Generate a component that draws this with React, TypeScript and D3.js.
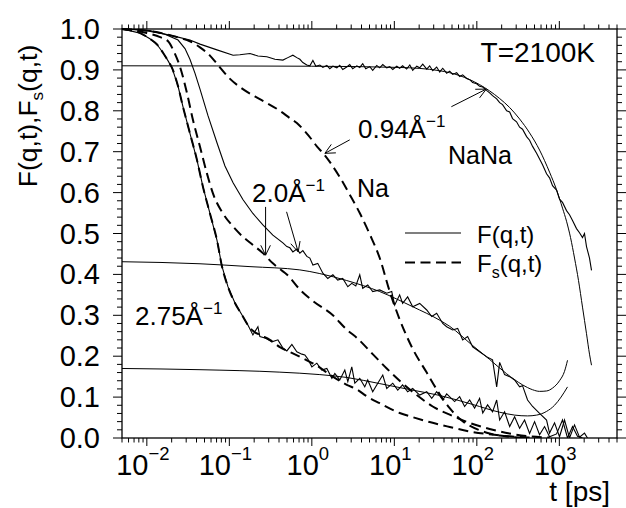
import React from 'react';
import * as d3 from 'd3';

type P = [number, number];

// t [ps], value
const nana094F: P[] = [[0.005,1.0],[0.0083,0.998],[0.0145,0.99],[0.0219,0.982],[0.0333,0.973],[0.0441,0.963],[0.0708,0.949],[0.111,0.936],[0.134,0.937],[0.178,0.94],[0.222,0.934],[0.285,0.932],[0.357,0.926],[0.446,0.924],[0.512,0.93],[0.589,0.936],[0.658,0.93],[0.716,0.926],[0.778,0.918],[0.87,0.912],[0.946,0.91],[1.03,0.923],[1.12,0.909],[1.25,0.912],[1.36,0.906],[1.52,0.911],[1.65,0.903],[1.8,0.909],[2.01,0.905],[2.18,0.911],[2.37,0.901],[2.65,0.907],[2.88,0.913],[3.13,0.903],[3.51,0.91],[3.81,0.906],[4.14,0.915],[4.51,0.903],[5.04,0.908],[5.47,0.899],[6.12,0.911],[6.65,0.905],[7.24,0.913],[8.09,0.905],[8.8,0.908],[9.57,0.901],[10.7,0.909],[11.6,0.904],[12.6,0.91],[14.1,0.902],[15.4,0.912],[16.7,0.899],[18.7,0.909],[20.3,0.905],[22.1,0.914],[24.7,0.902],[26.8,0.91],[29.2,0.898],[32.6,0.907],[35.5,0.895],[38.6,0.904],[43.1,0.892],[46.9,0.897],[50.9,0.889],[56.9,0.893],[61.9,0.884],[67.3,0.888],[75.3,0.879],[81.8,0.876],[89,0.869],[99.5,0.866],[108,0.86],[118,0.858],[131,0.85],[143,0.844],[155,0.837],[174,0.829],[189,0.82],[205,0.815],[230,0.8],[250,0.797],[271,0.781],[303,0.773],[330,0.76],[358,0.755],[401,0.737],[436,0.728],[474,0.713],[530,0.696],[576,0.682],[626,0.668],[700,0.646],[761,0.636],[827,0.617],[925,0.606],[1005,0.584],[1093,0.576],[1222,0.556],[1329,0.546],[1445,0.532],[1615,0.512],[1756,0.502],[1909,0.49],[2018,0.5],[2135,0.468],[2321,0.44],[2455,0.41]];

const nana094Fit: P[] = [[0.005,0.91],[1,0.909],[11.6,0.906],[35.5,0.898],[61.9,0.886],[108,0.864],[189,0.83],[250,0.808],[330,0.78],[436,0.746],[576,0.704],[761,0.65],[925,0.607],[1093,0.562],[1222,0.53],[1367,0.49],[1528,0.44],[1708,0.385],[1909,0.32],[2135,0.255],[2321,0.205],[2455,0.178]];

const na094Fs: P[] = [[0.005,1.0],[0.0109,0.995],[0.0191,0.985],[0.0252,0.978],[0.0333,0.97],[0.0441,0.955],[0.0582,0.935],[0.0708,0.915],[0.102,0.878],[0.146,0.853],[0.204,0.835],[0.285,0.819],[0.41,0.8],[0.542,0.782],[0.658,0.77],[0.823,0.75],[1.03,0.726],[1.15,0.713],[1.36,0.697],[1.65,0.675],[2.18,0.638],[2.88,0.595],[3.81,0.55],[5.04,0.498],[6.65,0.44],[8.8,0.358],[11.6,0.29],[16.7,0.218],[24.7,0.16],[35.5,0.107],[46.9,0.073],[61.9,0.047],[81.8,0.03],[108,0.019],[143,0.011],[189,0.006],[287,0.002],[436,0.0]];

const na20F: P[] = [[0.005,1.0],[0.0109,0.996],[0.0166,0.987],[0.0239,0.973],[0.029,0.952],[0.0333,0.926],[0.0383,0.892],[0.0441,0.853],[0.0551,0.788],[0.0708,0.722],[0.0885,0.665],[0.111,0.624],[0.146,0.583],[0.193,0.549],[0.255,0.521],[0.337,0.496],[0.446,0.477],[0.498,0.468],[0.542,0.465],[0.589,0.455],[0.658,0.462],[0.716,0.452],[0.778,0.458],[0.87,0.444],[0.946,0.44],[1.03,0.423],[1.18,0.427],[1.36,0.403],[1.56,0.39],[1.8,0.399],[2.06,0.386],[2.37,0.39],[2.73,0.37],[3.05,0.378],[3.41,0.372],[3.81,0.399],[4.14,0.366],[4.76,0.374],[5.47,0.358],[6.65,0.362],[8.09,0.354],[9.3,0.358],[10.1,0.325],[11.6,0.35],[12.6,0.329],[14.5,0.345],[16.7,0.321],[20.3,0.329],[24.7,0.313],[28.4,0.297],[32.6,0.305],[38.6,0.28],[43.1,0.272],[50.9,0.264],[58.6,0.268],[67.3,0.24],[77.4,0.248],[89,0.223],[108,0.211],[131,0.199],[155,0.191],[174,0.125],[189,0.185],[217,0.155],[250,0.15],[287,0.142],[330,0.125],[358,0.128],[412,0.093],[474,0.077],[576,0.06],[700,0.044],[761,0.012],[875,0.037],[1005,0.003],[1156,0.044],[1329,0.0],[1528,0.032],[1756,0.002],[2018,0.012],[2195,0.0]];

const na20Fit: P[] = [[0.005,0.431],[0.0441,0.426],[0.178,0.419],[0.716,0.411],[1.25,0.402],[2.65,0.385],[6.65,0.358],[16.7,0.321],[35.5,0.288],[46.9,0.273],[89,0.226],[143,0.192],[230,0.157],[358,0.13],[474,0.118],[576,0.114],[700,0.115],[827,0.122],[1005,0.14],[1156,0.163],[1257,0.19]];

const na20Fs: P[] = [[0.005,1.0],[0.01,0.99],[0.0145,0.98],[0.0181,0.97],[0.0213,0.945],[0.0252,0.908],[0.0307,0.843],[0.0362,0.778],[0.0441,0.712],[0.0535,0.647],[0.0633,0.598],[0.0837,0.549],[0.111,0.517],[0.146,0.492],[0.193,0.472],[0.255,0.452],[0.337,0.427],[0.41,0.413],[0.498,0.4],[0.716,0.363],[1.03,0.335],[1.8,0.3],[2.65,0.265],[3.51,0.245],[5.47,0.205],[8.09,0.17],[11.6,0.14],[18.7,0.105],[29.2,0.077],[46.9,0.057],[81.8,0.037],[143,0.022],[250,0.011],[436,0.004],[761,0.001]];

const na275F: P[] = [[0.005,1.0],[0.0083,0.99],[0.0109,0.976],[0.0133,0.962],[0.0157,0.942],[0.0181,0.922],[0.0202,0.905],[0.0239,0.86],[0.0274,0.81],[0.0333,0.745],[0.0405,0.68],[0.0479,0.614],[0.0582,0.549],[0.0708,0.484],[0.0813,0.42],[0.0962,0.37],[0.117,0.33],[0.146,0.297],[0.168,0.276],[0.193,0.252],[0.222,0.272],[0.2345,0.248],[0.277,0.244],[0.328,0.235],[0.388,0.24],[0.446,0.22],[0.498,0.213],[0.573,0.229],[0.658,0.211],[0.757,0.205],[0.823,0.203],[0.895,0.193],[1.0,0.174],[1.15,0.183],[1.32,0.166],[1.52,0.17],[1.75,0.146],[1.9,0.158],[2.18,0.142],[2.51,0.166],[2.73,0.138],[3.05,0.174],[3.32,0.134],[3.81,0.146],[4.38,0.125],[4.76,0.142],[5.47,0.113],[6.3,0.134],[7.24,0.154],[8.09,0.121],[9.57,0.134],[11.0,0.117],[12.6,0.13],[14.5,0.113],[16.7,0.121],[20.3,0.105],[24.7,0.113],[28.4,0.097],[32.6,0.113],[38.6,0.093],[43.1,0.108],[53.8,0.089],[61.9,0.101],[71.1,0.077],[81.8,0.093],[94,0.073],[108,0.097],[118,0.061],[135,0.081],[155,0.064],[174,0.093],[189,0.044],[217,0.064],[250,0.028],[287,0.052],[330,0.024],[379,0.044],[436,0.011],[501,0.04],[576,0.008],[662,0.028],[761,0.003],[925,0.01],[1093,0.044],[1257,0.0],[1445,0.028],[1660,0.004],[1909,0.0]];

const na275Fit: P[] = [[0.005,0.17],[0.0441,0.167],[0.41,0.161],[1.25,0.155],[2.65,0.148],[6.65,0.133],[16.7,0.117],[35.5,0.104],[89,0.082],[189,0.063],[287,0.056],[412,0.054],[530,0.056],[700,0.065],[875,0.08],[1049,0.1],[1257,0.125]];

const na275Fs: P[] = [[0.005,1.0],[0.0083,0.99],[0.0109,0.976],[0.0133,0.962],[0.0157,0.942],[0.0181,0.922],[0.0202,0.905],[0.0239,0.86],[0.0274,0.81],[0.0333,0.745],[0.0405,0.68],[0.0479,0.614],[0.0582,0.549],[0.0708,0.484],[0.0813,0.42],[0.0962,0.37],[0.117,0.33],[0.146,0.297],[0.168,0.276],[0.193,0.262],[0.2345,0.252],[0.31,0.24],[0.41,0.222],[0.589,0.207],[0.87,0.19],[1.15,0.177],[1.65,0.155],[2.65,0.13],[3.51,0.119],[4.63,0.102],[6.65,0.085],[11.6,0.061],[16.7,0.051],[26.8,0.039],[46.9,0.027],[81.8,0.016],[143,0.009],[250,0.004],[436,0.001]];

// annotation arrows: [from, to] in data coordinates
const arrows: [P, P][] = [
  [[49.1, 0.81], [130, 0.853]],
  [[2.88, 0.729], [1.44, 0.696]],
  [[0.275, 0.565], [0.275, 0.447]],
  [[0.494, 0.553], [0.683, 0.455]],
];

const decades = [0.01, 0.1, 1, 10, 100, 1000];
const decadeExp = ['\u22122', '\u22121', '0', '1', '2', '3'];
const yMajor = [0, 0.1, 0.2, 0.3, 0.4, 0.5, 0.6, 0.7, 0.8, 0.9, 1.0];

const FONT = "'Liberation Sans', Arial, Helvetica, sans-serif";

export default function App() {
  const L = 122, R = 617, T = 29, B = 438;
  const x = d3.scaleLog().domain([0.005, 5000]).range([L, R]);
  const y = d3.scaleLinear().domain([0, 1]).range([B, T]);
  const lin = d3.line<P>().x(d => x(d[0])).y(d => y(d[1]));
  const smooth = d3.line<P>().x(d => x(d[0])).y(d => y(d[1])).curve(d3.curveMonotoneX);

  const xMinor = x.ticks().filter(t => Math.abs(Math.log10(t) - Math.round(Math.log10(t))) > 1e-6);
  const yMinor = y.ticks(50).filter(v => Math.abs(v * 10 - Math.round(v * 10)) > 1e-6);

  const arrowEl = (a: [P, P], i: number) => {
    const x1 = x(a[0][0]), y1 = y(a[0][1]), x2 = x(a[1][0]), y2 = y(a[1][1]);
    const ang = Math.atan2(y2 - y1, x2 - x1);
    const len = 11, phi = (26 * Math.PI) / 180;
    const h1 = [x2 - len * Math.cos(ang - phi), y2 - len * Math.sin(ang - phi)];
    const h2 = [x2 - len * Math.cos(ang + phi), y2 - len * Math.sin(ang + phi)];
    return (
      <g key={i} stroke="#000" strokeWidth={1} fill="none">
        <line x1={x1} y1={y1} x2={x2} y2={y2} />
        <polyline points={`${h1[0]},${h1[1]} ${x2},${y2} ${h2[0]},${h2[1]}`} />
      </g>
    );
  };

  const dash = '10,5.5';

  return (
    <svg width={626} height={508} style={{ position: 'absolute', left: 0, top: 0, background: '#fff' }} fontFamily={FONT}>
      <rect width={626} height={508} fill="#fff" />
      <defs>
        <clipPath id="plot">
          <rect x={L} y={T - 2} width={R - L} height={B - T + 2} />
        </clipPath>
      </defs>

      <g clipPath="url(#plot)" fill="none" stroke="#000">
        <path d={smooth(nana094Fit) ?? ''} strokeWidth={1} />
        <path d={smooth(na20Fit) ?? ''} strokeWidth={1} />
        <path d={smooth(na275Fit) ?? ''} strokeWidth={1} />
        <path d={lin(nana094F) ?? ''} strokeWidth={1.1} />
        <path d={lin(na20F) ?? ''} strokeWidth={1.1} />
        <path d={lin(na275F) ?? ''} strokeWidth={1.1} />
        <path d={smooth(na094Fs) ?? ''} strokeWidth={2} strokeDasharray={dash} />
        <path d={smooth(na20Fs) ?? ''} strokeWidth={2} strokeDasharray={dash} />
        <path d={smooth(na275Fs) ?? ''} strokeWidth={2} strokeDasharray={dash} />
      </g>

      {/* frame */}
      <rect x={L} y={T} width={R - L} height={B - T} fill="none" stroke="#000" strokeWidth={1.3} />

      {/* ticks */}
      <g stroke="#000" strokeWidth={1}>
        {decades.map(t => (
          <g key={'xd' + t}>
            <line x1={x(t)} x2={x(t)} y1={B} y2={B + 8} />
            <line x1={x(t)} x2={x(t)} y1={T} y2={T - 8} />
          </g>
        ))}
        {xMinor.map(t => (
          <g key={'xm' + t}>
            <line x1={x(t)} x2={x(t)} y1={B} y2={B + 4.5} />
            <line x1={x(t)} x2={x(t)} y1={T} y2={T - 4.5} />
          </g>
        ))}
        {yMajor.map(v => (
          <g key={'yd' + v}>
            <line x1={L} x2={L - 9} y1={y(v)} y2={y(v)} />
            <line x1={R} x2={R + 9} y1={y(v)} y2={y(v)} />
          </g>
        ))}
        {yMinor.map(v => (
          <g key={'ym' + v}>
            <line x1={L} x2={L - 5} y1={y(v)} y2={y(v)} />
            <line x1={R} x2={R + 5} y1={y(v)} y2={y(v)} />
          </g>
        ))}
      </g>

      {/* tick labels */}
      <g fill="#000">
        {yMajor.map(v => (
          <text key={'yl' + v} x={100} y={y(v) + 10} fontSize={29} textAnchor="end">{v.toFixed(1)}</text>
        ))}
        {decades.map((t, i) => (
          <text key={'xl' + t} x={x(t) - 4} y={475} fontSize={29} textAnchor="middle">
            10<tspan dy={-15.5} fontSize={18.5}>{decadeExp[i]}</tspan>
          </text>
        ))}
      </g>

      {/* axis titles */}
      <text x={610} y={501} fontSize={28} textAnchor="end">t [ps]</text>
      <text transform="translate(37,116) rotate(-90)" fontSize={26.5} textAnchor="middle">
        F(q,t),F<tspan dy={6} fontSize={17}>s</tspan><tspan dy={-6}>(q,t)</tspan>
      </text>

      {/* annotations */}
      <text x={595} y={61.5} fontSize={28} textAnchor="end">T=2100K</text>
      <text x={448} y={164} fontSize={25}>NaNa</text>
      <text x={357} y={197} fontSize={25}>Na</text>
      <text x={358} y={138} fontSize={26}>0.94Å<tspan dy={-11} fontSize={17}>{'\u22121'}</tspan></text>
      <text x={252} y={201.5} fontSize={26}>2.0Å<tspan dy={-11} fontSize={17}>{'\u22121'}</tspan></text>
      <text x={135} y={325} fontSize={26}>2.75Å<tspan dy={-11} fontSize={17}>{'\u22121'}</tspan></text>
      {arrows.map(arrowEl)}

      {/* legend */}
      <line x1={405} x2={461} y1={233} y2={233} stroke="#000" strokeWidth={1.1} />
      <text x={477} y={243} fontSize={24}>F(q,t)</text>
      <line x1={405} x2={461} y1={262.5} y2={262.5} stroke="#000" strokeWidth={2} strokeDasharray={dash} />
      <text x={477} y={272} fontSize={24}>F<tspan dy={6} fontSize={16}>s</tspan><tspan dy={-6}>(q,t)</tspan></text>
    </svg>
  );
}
